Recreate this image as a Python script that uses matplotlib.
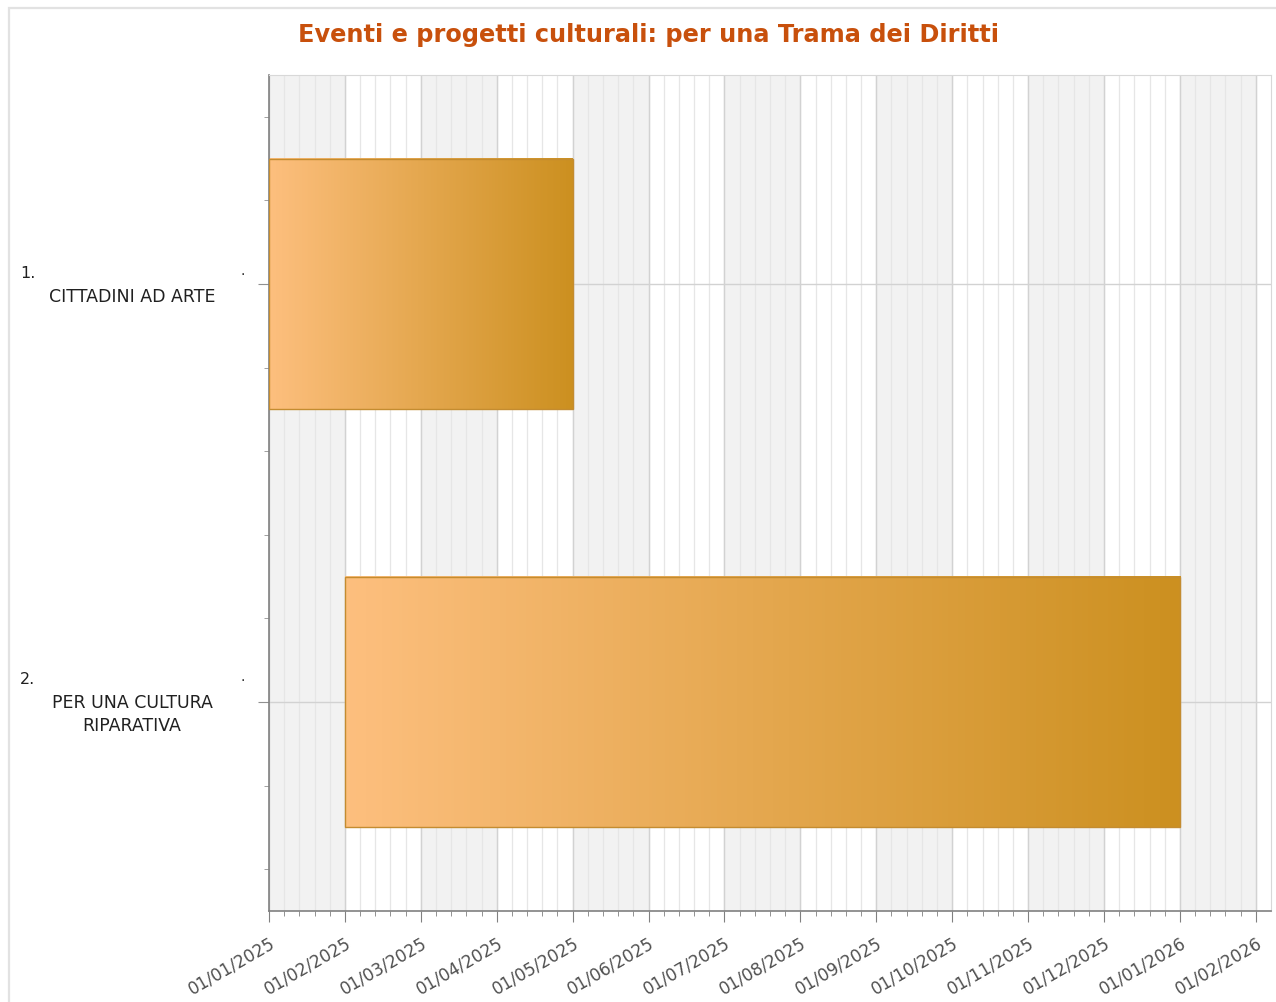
import numpy as np
import matplotlib
matplotlib.use('Agg')
from matplotlib import pyplot as plt
from matplotlib.colors import LinearSegmentedColormap
from matplotlib.patches import Rectangle

# dati del gantt
tasks = ['CITTADINI AD ARTE', 'PER UNA CULTURA\nRIPARATIVA']
starts = ['01/01/2025', '01/02/2025']
ends = ['01/05/2025', '01/01/2026']
tick_labels = ['01/%02d/%d' % (m % 12 + 1, 2025 + m // 12) for m in range(14)]

title = 'Eventi e progetti culturali: per una Trama dei Diritti'


# indice del mese a partire da gennaio 2025
def month_index(s):
    d, m, y = [int(p) for p in s.split('/')]
    return (y - 2025) * 12 + (m - 1) + (d - 1) / 30.0


plt.rcParams['font.family'] = ['DejaVu Sans']

fig = plt.figure(figsize=(12.76, 10.03), dpi=100)
fig.patches.append(Rectangle((9 / 1276, -0.01), 1.1, 1 - 9 / 1003 + 0.01, transform=fig.transFigure,
                             fill=False, edgecolor='#e2e2e2', linewidth=1.6))

ax = fig.add_axes([269 / 1276, 1 - 912 / 1003, (1271 - 269) / 1276, (912 - 76) / 1003])

# bande alternate e griglia
for m in range(0, 14, 2):
    ax.axvspan(m, m + 1, color='#f2f2f2', zorder=0, lw=0)
for m in np.arange(0, 13.2, 0.2):
    ax.axvline(m, color='#e6e6e6', lw=0.9, zorder=0.5)
for m in range(14):
    ax.axvline(m, color='#d2d2d2', lw=1.0, zorder=0.6)
for i in range(len(tasks)):
    ax.axhline(i + 1, color='#d2d2d2', lw=1.0, zorder=0.6)

cmap = LinearSegmentedColormap.from_list('bar', ['#fdbf7e', '#cc9020'])
grad = np.linspace(0, 1, 256).reshape(1, -1)
bar_h = 0.6
for i, (s, e) in enumerate(zip(starts, ends)):
    x0, x1 = month_index(s), month_index(e)
    y = i + 1
    ax.imshow(grad, cmap=cmap, aspect='auto', extent=(x0, x1, y + bar_h / 2, y - bar_h / 2),
              zorder=2, interpolation='bilinear')
    ax.add_patch(Rectangle((x0, y - bar_h / 2), x1 - x0, bar_h, fill=False,
                           edgecolor='#c48c30', lw=1.0, zorder=3))
ax.set_xlim(0, 13.2)
ax.set_ylim(2.5, 0.5)

ax.set_xticks(range(14))
ax.set_xticklabels(tick_labels, rotation=30, ha='right', va='top', rotation_mode='anchor',
                   fontsize=12.2, color='#505050')
ax.set_xticks(np.arange(0, 13.2, 0.2), minor=True)
ax.set_yticks([1, 2])
ax.set_yticklabels([])
ax.set_yticks(np.arange(0.6, 2.5, 0.2), minor=True)
ax.tick_params(axis='x', which='major', length=8, color='#808080', pad=8)
ax.tick_params(axis='x', which='minor', length=3.5, color='#808080')
ax.tick_params(axis='y', which='major', length=8, color='#909090')
ax.tick_params(axis='y', which='minor', length=3.5, color='#909090')

for side in ['top', 'right']:
    ax.spines[side].set_color('#d8d8d8')
for side in ['left', 'bottom']:
    ax.spines[side].set_color('#808080')
    ax.spines[side].set_linewidth(1.2)

# etichette delle righe
tr = ax.get_yaxis_transform()
line_gap = 23
for i, name in enumerate(tasks):
    lines = name.split('\n')
    n = len(lines) + 1
    y = i + 1
    off0 = (n - 1) / 2 * line_gap
    ax.annotate('%d.' % (i + 1), xy=(0, y), xycoords=tr, xytext=(-249, off0),
                textcoords='offset pixels', ha='left', va='center', fontsize=11.5, color='#202020')
    ax.annotate('.', xy=(0, y), xycoords=tr, xytext=(-26, off0 + 3),
                textcoords='offset pixels', ha='center', va='center', fontsize=10, color='#202020')
    for k, ln in enumerate(lines):
        ax.annotate(ln, xy=(0, y), xycoords=tr, xytext=(-137, off0 - (k + 1) * line_gap),
                    textcoords='offset pixels', ha='center', va='center', fontsize=12.5,
                    color='#202020')

fig.text(649 / 1276, 1 - 35 / 1003, title, ha='center', va='center', fontsize=17.3,
         fontweight='bold', color='#c8500c')

fig.savefig('out.png', dpi=100)
